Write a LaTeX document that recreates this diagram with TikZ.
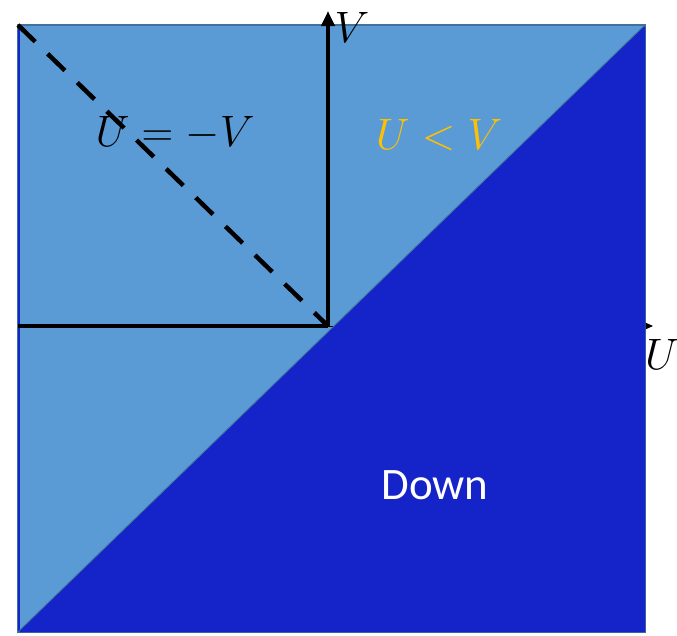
\RequirePackage{fix-cm}
\documentclass[tikz,border=0pt]{standalone}
\usepackage{fontspec}
\newfontfamily\carl{Carlito}
\usetikzlibrary{arrows.meta}
\definecolor{lightb}{HTML}{5B9BD5}
\definecolor{darkb}{HTML}{1524C8}
\definecolor{edgeb}{HTML}{41719C}
\definecolor{goldy}{HTML}{FFC000}
\DeclareMathSizes{44}{44}{32}{24}
\tikzset{
  axis/.style={line width=4pt},
  lbl/.style={font=\fontsize{44}{50}\selectfont, inner sep=0pt},
}
\begin{document}
\begin{tikzpicture}[x=1pt,y=-1pt]
\useasboundingbox (0,0) rectangle (677,635);
% light square
\fill[lightb, draw=edgeb, line width=1.5pt] (18,25) rectangle (645,632);
\draw[darkb, line width=2pt] (19,25) -- (19,632);
% axes
\coordinate (O) at (328,326);
\coordinate (L) at (18,326);
\coordinate (R) at (653,326);
\coordinate (T) at (328,11);
\coordinate (TL) at (18,25);
\draw[axis] (L) -- (O);
\draw[axis, -{Triangle[length=15pt,width=13pt]}] (O) -- (T);
\draw[line width=1pt, -{Triangle[length=8pt,width=7pt]}] (O) -- (R);
% dark triangle
\coordinate (BL) at (18,632);
\coordinate (BR) at (645,632);
\coordinate (TR) at (645,25);
\fill[darkb, draw=edgeb, line width=1pt] (BL) -- (TR) -- (BR) -- cycle;
\fill[darkb] (19,632) -- (644,27) -- (645,27) -- (645,632) -- cycle;
% dashed diagonal
\draw[line width=4.5pt, dash pattern=on 24pt off 17.3pt] (TL) -- (O);
% labels
\node[lbl] (lv) at (352,27) {$V$};
\node[lbl] (lu) at (662,354) {$U$};
\node[lbl] (eq) at (175,133) {$U=-V$};
\node[lbl, text=goldy] (lt) at (439,135) {$U<V$};
\node[inner sep=0pt, text=white, font=\carl\fontsize{45}{50}\selectfont] (dn) at (435,485) {Down};
\end{tikzpicture}
\end{document}
